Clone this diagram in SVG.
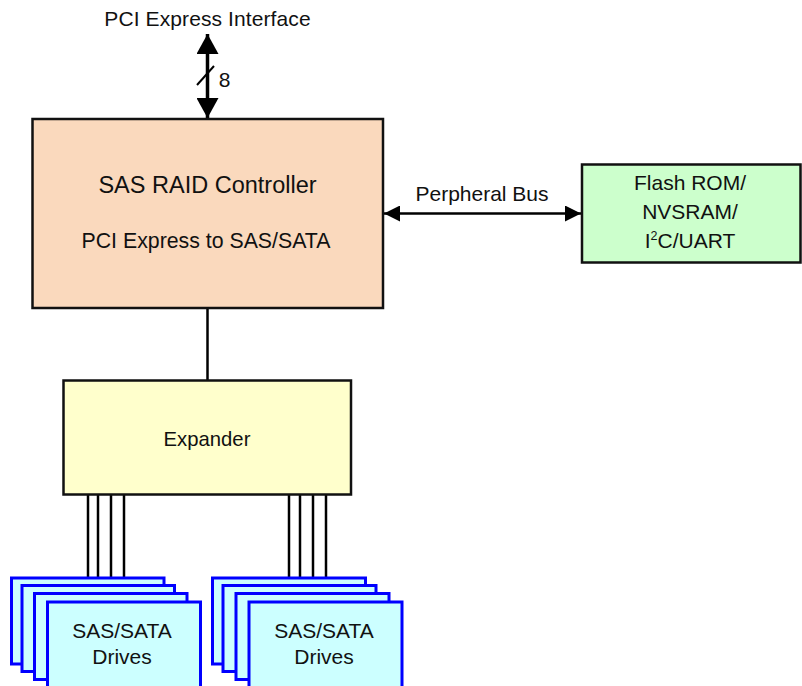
<svg xmlns="http://www.w3.org/2000/svg" width="802" height="686" viewBox="0 0 802 686">
<defs>
<style>
text{font-family:"Liberation Sans",Arial,sans-serif;fill:#111;text-anchor:middle}
.box{stroke:#111;stroke-width:2.5}
.drv{fill:#ccffff;stroke:#0000ff;stroke-width:3}
.wire{stroke:#000;stroke-width:2.5;fill:none}
</style>
<marker id="bigHead" markerUnits="userSpaceOnUse" markerWidth="22" markerHeight="22" viewBox="0 0 20 22" refX="20" refY="11" orient="auto-start-reverse">
<path d="M0,0 L20,11 L0,22 Z" fill="#000"/>
</marker>
<marker id="smallHead" markerUnits="userSpaceOnUse" markerWidth="16" markerHeight="16" viewBox="0 0 16 16" refX="16" refY="8" orient="auto-start-reverse">
<path d="M0,0 L16,8 L0,16 Z" fill="#000"/>
</marker>
</defs>
<rect width="802" height="686" fill="#fff"/>

<text x="207.5" y="25.5" font-size="21" letter-spacing="0.1">PCI Express Interface</text>

<g id="connectors">
<line x1="207.5" y1="34" x2="207.5" y2="118" stroke="#000" stroke-width="3.5" marker-start="url(#bigHead)" marker-end="url(#bigHead)"/>
<line x1="197" y1="85" x2="214" y2="66" stroke="#000" stroke-width="2"/>
<line x1="384" y1="213.5" x2="581" y2="213.5" stroke="#000" stroke-width="2.5" marker-start="url(#smallHead)" marker-end="url(#smallHead)"/>
<line class="wire" x1="207.5" y1="308" x2="207.5" y2="380"/>
<line class="wire" x1="88" y1="495" x2="88" y2="578"/>
<line class="wire" x1="98" y1="495" x2="98" y2="585"/>
<line class="wire" x1="111" y1="495" x2="111" y2="593"/>
<line class="wire" x1="124" y1="495" x2="124" y2="602"/>
<line class="wire" x1="289" y1="495" x2="289" y2="578"/>
<line class="wire" x1="300" y1="495" x2="300" y2="585"/>
<line class="wire" x1="313" y1="495" x2="313" y2="593"/>
<line class="wire" x1="326" y1="495" x2="326" y2="602"/>
</g>
<text x="224.5" y="87" font-size="21">8</text>
<text x="482" y="201" font-size="21">Perpheral Bus</text>

<g id="controller">
<rect class="box" x="32.5" y="119" width="350.5" height="189" fill="#fad9bd"/>
<text x="207.5" y="193" font-size="23.5">SAS RAID Controller</text>
<text x="206" y="248" font-size="21.3">PCI Express to SAS/SATA</text>
</g>

<g id="flash">
<rect class="box" x="582" y="164.5" width="218.5" height="98" fill="#ccffcc"/>
<text x="690" y="190" font-size="21">Flash ROM/</text>
<text x="690" y="219" font-size="21">NVSRAM/</text>
<text x="690" y="248" font-size="21">I<tspan font-size="12.5" dy="-8.5">2</tspan><tspan dy="8.5">C/UART</tspan></text>
</g>

<g id="expander">
<rect class="box" x="63.5" y="380.5" width="287.5" height="114" fill="#ffffcc"/>
<text x="207" y="446" font-size="20.3">Expander</text>
</g>

<g id="drives1">
<rect class="drv" x="11.5" y="578" width="152.5" height="86"/>
<rect class="drv" x="22" y="585.5" width="152.5" height="86"/>
<rect class="drv" x="34.5" y="593.5" width="152.5" height="86"/>
<rect class="drv" x="47.5" y="602" width="153" height="90"/>
<text x="122" y="638" font-size="21">SAS/SATA</text>
<text x="122" y="664" font-size="21">Drives</text>
</g>

<g id="drives2">
<rect class="drv" x="212.5" y="578" width="153" height="86"/>
<rect class="drv" x="223" y="585.5" width="153" height="86"/>
<rect class="drv" x="236" y="593.5" width="153" height="86"/>
<rect class="drv" x="249" y="602" width="153" height="90"/>
<text x="324" y="638" font-size="21">SAS/SATA</text>
<text x="324" y="664" font-size="21">Drives</text>
</g>
</svg>
